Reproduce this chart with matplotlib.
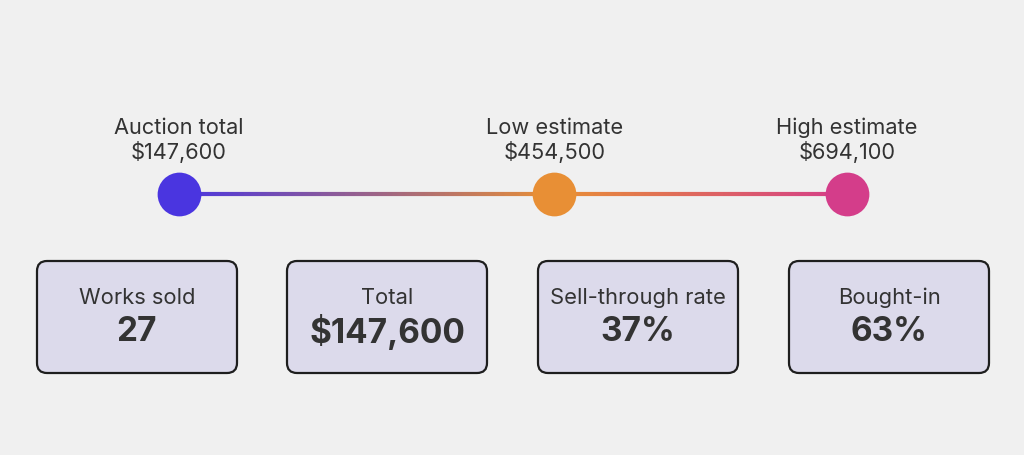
#!/usr/bin/env python3
import numpy as np
import matplotlib
matplotlib.use('Agg')
import matplotlib.pyplot as plt
from matplotlib.collections import LineCollection
from matplotlib.colors import LinearSegmentedColormap
from matplotlib.patches import FancyBboxPatch

# timeline data
point_labels = ['Auction total', 'Low estimate', 'High estimate']
point_values = [147600, 454500, 694100]
point_colors = ['#4a35e0', '#e88f35', '#d43d8a']

# stat cards
card_labels = ['Works sold', 'Total', 'Sell-through rate', 'Bought-in']
card_values = ['27', '$147,600', '37%', '63%']

plt.rcParams['font.family'] = ['Inter', 'DejaVu Sans']
BG = '#f0f0f0'
TXT = '#333333'

W, H, DPI = 1024, 455, 100
fig = plt.figure(figsize=(W / DPI, H / DPI), dpi=DPI, facecolor=BG)

# background axes in pixel coords for the cards
bg = fig.add_axes([0, 0, 1, 1])
bg.set_xlim(0, W)
bg.set_ylim(H, 0)
bg.axis('off')
bg.set_facecolor(BG)

# timeline axes, x in dollars
x0, x1 = 179, 847
tl = fig.add_axes([x0 / W, 0, (x1 - x0) / W, 1])
tl.set_xlim(min(point_values), max(point_values))
tl.set_ylim(H, 0)
tl.axis('off')
tl.patch.set_alpha(0)

line_y = 194
# gradient line between the points
cmap = LinearSegmentedColormap.from_list(
    'grad', [((v - point_values[0]) / (point_values[-1] - point_values[0]), c)
             for v, c in zip(point_values, point_colors)])
xs = np.linspace(point_values[0], point_values[-1], 400)
segs = [[(xs[i], line_y), (xs[i + 1], line_y)] for i in range(len(xs) - 1)]
lc = LineCollection(segs, cmap=cmap, linewidths=3.0, capstyle='butt', clip_on=False)
lc.set_array((xs[:-1] - xs[0]) / (xs[-1] - xs[0]))
lc.set_clim(0, 1)
tl.add_collection(lc)

for lab, v, c in zip(point_labels, point_values, point_colors):
    tl.plot(v, line_y, 'o', ms=31.5, color=c, mec='none', clip_on=False, zorder=3)
    tl.text(v, 128, lab, ha='center', va='center', fontsize=15.7, color=TXT)
    tl.text(v, 152, f'${v:,}', ha='center', va='center', fontsize=15.7, color=TXT)

# cards
card_w, card_h = 200, 112
card_x = [37, 287, 538, 789]
card_top = 261
for cx, lab, val in zip(card_x, card_labels, card_values):
    box = FancyBboxPatch((cx + 10, card_top + 10), card_w - 20, card_h - 20,
                         boxstyle='round,pad=10', fc='#dcdaeb', ec='#1e1e1e', lw=1.6)
    bg.add_patch(box)
    bg.text(cx + card_w / 2, 298, lab, ha='center', va='center', fontsize=15.8, color=TXT)
    bg.text(cx + card_w / 2, 332, val, ha='center', va='center', fontsize=24,
            fontweight='bold', color=TXT)

fig.savefig('out.png', dpi=DPI, facecolor=BG)
